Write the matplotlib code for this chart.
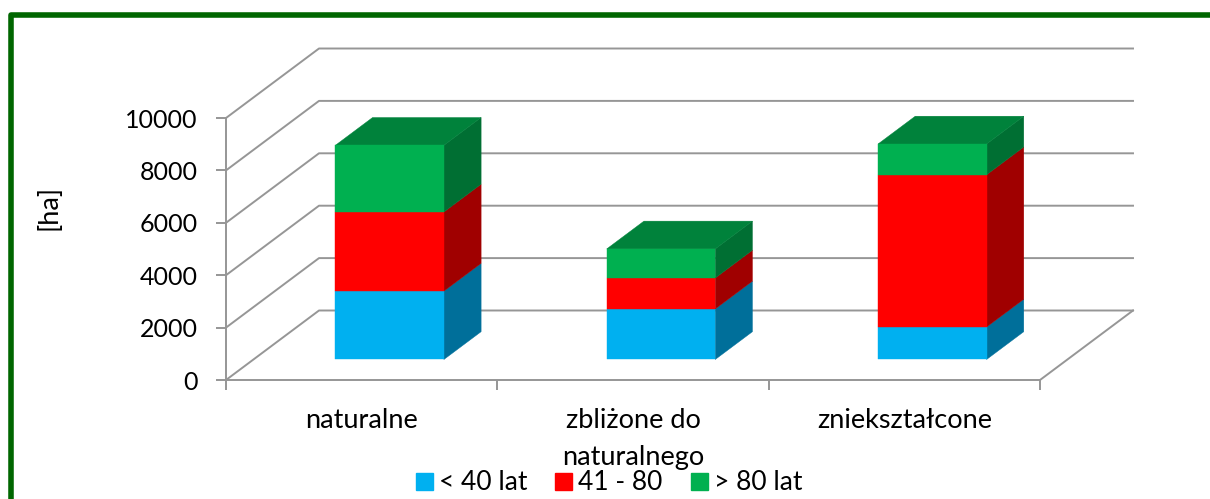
import matplotlib
matplotlib.use("Agg")
import matplotlib.pyplot as plt
from matplotlib.lines import Line2D
from matplotlib.patches import Polygon, Patch

categories = ["naturalne", "zbliżone do\nnaturalnego", "zniekształcone"]
series_names = ["< 40 lat", "41 - 80", "> 80 lat"]
young = [2610, 1930, 1240]
middle = [3020, 1180, 5810]
old = [2545, 1110, 1175]
y_ticks = [0, 2000, 4000, 6000, 8000, 10000]

front_colors = ["#00B0F0", "#FF0000", "#00B050"]
side_colors = ["#006F9A", "#A00000", "#006F33"]
top_color = "#00823B"
grid_color = "#969696"
frame_color = "#006600"

# oblique projection, one unit of depth = this far in data units
DEPTH_X = 93 / (814 / 3)
DEPTH_Y = 69.5 / 262 * 10000


def proj(c, v, d):
    return (c + d * DEPTH_X, v + d * DEPTH_Y)


def face(ax, pts, color, z):
    ax.add_patch(Polygon(pts, closed=True, facecolor=color, edgecolor=color,
                         lw=0.3, clip_on=False, zorder=z))


plt.rcParams["font.family"] = ["Lato", "DejaVu Sans"]

fig = plt.figure(figsize=(12.10, 4.99), dpi=100)
ax = fig.add_axes([226 / 1210, (499 - 380) / 499, 814 / 1210, 262 / 499])
ax.set_xlim(0, 3)
ax.set_ylim(0, 10000)
ax.patch.set_visible(False)

for side in ("top", "right"):
    ax.spines[side].set_visible(False)
for side in ("left", "bottom"):
    ax.spines[side].set_color(grid_color)
    ax.spines[side].set_linewidth(1.4)

ax.set_yticks(y_ticks)
ax.set_xticks([0, 1, 2, 3])
ax.set_xticklabels([])
ax.tick_params(axis="y", length=7, width=1.4, color=grid_color, labelsize=18, pad=13.5)
ax.tick_params(axis="x", length=7, width=1.4, color=grid_color)

# category labels sit between the ticks
for i, name in enumerate(categories):
    ax.annotate(name, xy=(i + 0.5, 0), xytext=(0, -20), textcoords="offset points",
                ha="center", va="top", fontsize=19.5, linespacing=1.6,
                annotation_clip=False)

ax.set_ylabel("[ha]", fontsize=19.5, labelpad=0)
ax.yaxis.set_label_coords(-0.2025, 0.66)

# walls and floor
for v in y_ticks:
    x0, y0 = proj(0, v, 1)
    x1, y1 = proj(3, v, 1)
    ax.add_line(Line2D([0, x0, x1], [v, y0, y1], color=grid_color, lw=1.4,
                       clip_on=False, zorder=1))
x1, y1 = proj(3, 0, 1)
ax.add_line(Line2D([3, x1], [0, y1], color=grid_color, lw=1.4, clip_on=False, zorder=1))

# stacked 3D columns
bar_w = 0.40
d0 = 0.295
d1 = d0 + 0.40
for i in range(len(categories)):
    c0 = i + 0.302
    c1 = c0 + bar_w
    base = 0
    for j, vals in enumerate([young, middle, old]):
        top = base + vals[i]
        face(ax, [proj(c0, base, d0), proj(c1, base, d0), proj(c1, top, d0), proj(c0, top, d0)],
             front_colors[j], 5)
        face(ax, [proj(c1, base, d0), proj(c1, base, d1), proj(c1, top, d1), proj(c1, top, d0)],
             side_colors[j], 4)
        base = top
    face(ax, [proj(c0, base, d0), proj(c1, base, d0), proj(c1, base, d1), proj(c0, base, d1)],
         top_color, 4)

handles = [Patch(facecolor=c, edgecolor=c) for c in front_colors]
fig.legend(handles, series_names, loc="center", bbox_to_anchor=(609 / 1210, 1 - 483 / 499),
           ncol=3, frameon=False, fontsize=19, handlelength=0.64, handleheight=0.64,
           handletextpad=0.23, columnspacing=1.06, borderpad=0, labelspacing=0)

# green frame, only top and left are in the picture
fig.add_artist(Line2D([10.5 / 1210, 10.5 / 1210, 1], [0, 1 - 14.5 / 499, 1 - 14.5 / 499],
                      color=frame_color, lw=4, solid_joinstyle="round"))

fig.savefig("out.png", dpi=100)
